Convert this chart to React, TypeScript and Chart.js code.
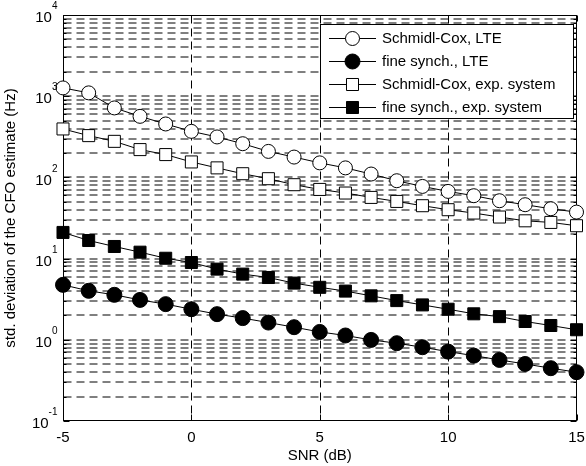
import React, { useEffect, useRef } from 'react';
import { Chart, registerables } from 'chart.js';

Chart.register(...registerables);

const snrDb = [-5, -4, -3, -2, -1, 0, 1, 2, 3, 4, 5, 6, 7, 8, 9, 10, 11, 12, 13, 14, 15];
const schmidlCoxLte = [1265, 1099, 717, 565, 455, 369, 315, 260, 209, 178, 151, 131, 110, 91, 77.4, 67.2, 59.5, 51.6, 46.1, 41.1, 37.4];
const fineSynchLte = [4.75, 4.01, 3.58, 3.1, 2.75, 2.38, 2.07, 1.85, 1.63, 1.43, 1.25, 1.13, 0.997, 0.908, 0.81, 0.715, 0.638, 0.565, 0.504, 0.447, 0.399];
const schmidlCoxExp = [395, 327, 278, 220, 191, 155, 131, 111, 96.4, 81.3, 71.1, 64.2, 56.7, 50.6, 44.8, 40, 36.4, 32.5, 29.2, 27.9, 25.4];
const fineSynchExp = [21.0, 16.7, 14.1, 12.0, 10.1, 8.95, 7.42, 6.44, 5.85, 4.99, 4.43, 3.98, 3.48, 3.04, 2.69, 2.38, 2.09, 1.93, 1.68, 1.5, 1.33];

const seriesLabels = [
  'Schmidl-Cox, LTE',
  'fine synch., LTE',
  'Schmidl-Cox, exp. system',
  'fine synch., exp. system',
];
const xTickValues = [-5, 0, 5, 10, 15];
const yDecadeExponents = [-1, 0, 1, 2, 3, 4];
const xTitle = 'SNR (dB)';
const yTitle = 'std. deviation of the CFO estimate (Hz)';

const FONT = '"Liberation Sans", Arial, Helvetica, sans-serif';

type Marker = { style: 'circle' | 'rect'; fill: string; radius: number };
const markers: Marker[] = [
  { style: 'circle', fill: '#ffffff', radius: 7 },
  { style: 'circle', fill: '#000000', radius: 7.5 },
  { style: 'rect', fill: '#ffffff', radius: 8.5 },
  { style: 'rect', fill: '#000000', radius: 8.5 },
];

function yTickValues(): number[] {
  const out: number[] = [];
  for (let e = yDecadeExponents[0]; e < yDecadeExponents[yDecadeExponents.length - 1]; e++) {
    for (let m = 1; m <= 9; m++) out.push(m * Math.pow(10, e));
  }
  out.push(Math.pow(10, yDecadeExponents[yDecadeExponents.length - 1]));
  return out;
}

function drawMarker(ctx: CanvasRenderingContext2D, m: Marker, x: number, y: number) {
  ctx.beginPath();
  if (m.style === 'circle') {
    ctx.arc(x, y, m.radius, 0, Math.PI * 2);
  } else {
    const s = m.radius * Math.SQRT1_2;
    ctx.rect(x - s, y - s, 2 * s, 2 * s);
  }
  ctx.fillStyle = m.fill;
  ctx.fill();
  ctx.lineWidth = 1;
  ctx.strokeStyle = '#000';
  ctx.stroke();
}

const framePlugin = {
  id: 'matlabFrame',
  beforeDatasetsDraw(chart: any) {
    const { ctx, chartArea: a, scales } = chart;
    const xs = scales.x;
    const ys = scales.y;
    const L = Math.round(a.left) + 0.5;
    const R = Math.round(a.right) - 0.5;
    const T = Math.round(a.top) + 0.5;
    const B = Math.round(a.bottom) - 0.5;
    ctx.save();
    // horizontal grid (soft grey dashes)
    ctx.lineWidth = 1;
    ctx.strokeStyle = '#000';
    ctx.setLineDash([8, 5]);
    for (const v of yTickValues()) {
      const py = Math.round(ys.getPixelForValue(v));
      if (py <= T + 1 || py >= B - 1) continue;
      ctx.beginPath();
      ctx.moveTo(L, py);
      ctx.lineTo(R, py);
      ctx.stroke();
    }
    // vertical grid
    ctx.lineWidth = 1;
    ctx.strokeStyle = '#000';
    for (const v of xTickValues) {
      const px = Math.round(xs.getPixelForValue(v)) + 0.5;
      if (px <= L + 1 || px >= R - 1) continue;
      ctx.beginPath();
      ctx.moveTo(px, T);
      ctx.lineTo(px, B);
      ctx.stroke();
    }
    ctx.setLineDash([]);
    // ticks on y
    for (const v of yTickValues()) {
      const py = Math.round(ys.getPixelForValue(v)) + 0.5;
      const major = Math.abs(Math.log10(v) - Math.round(Math.log10(v))) < 1e-9;
      const len = major ? 6 : 3;
      ctx.beginPath();
      ctx.moveTo(L, py);
      ctx.lineTo(L + len, py);
      ctx.moveTo(R, py);
      ctx.lineTo(R - len, py);
      ctx.stroke();
    }
    for (const v of xTickValues) {
      const px = Math.round(xs.getPixelForValue(v)) + 0.5;
      ctx.beginPath();
      ctx.moveTo(px, B);
      ctx.lineTo(px, B - 6);
      ctx.moveTo(px, T);
      ctx.lineTo(px, T + 6);
      ctx.stroke();
    }
    ctx.strokeRect(L, T, R - L, B - T);
    ctx.restore();
  },
  afterDraw(chart: any) {
    const { ctx, chartArea: a, scales } = chart;
    const ys = scales.y;
    ctx.save();
    // y tick labels 10^e
    const rightEdge = a.left - 5.5;
    for (const e of yDecadeExponents) {
      const py = ys.getPixelForValue(Math.pow(10, e));
      const expText = String(e);
      ctx.font = `10px ${FONT}`;
      const wExp = ctx.measureText(expText).width;
      ctx.font = `15px ${FONT}`;
      const wBase = ctx.measureText('10').width;
      ctx.fillStyle = '#000';
      ctx.textBaseline = 'middle';
      ctx.textAlign = 'left';
      ctx.fillText('10', rightEdge - wExp - wBase, py + 3);
      ctx.font = `10px ${FONT}`;
      ctx.fillText(expText, rightEdge - wExp, py - 8.5);
    }
    // legend
    const bx = 320.5, by = 24.5, bw = 253, bh = 94;
    ctx.fillStyle = '#fff';
    ctx.fillRect(bx, by, bw, bh);
    ctx.strokeStyle = '#000';
    ctx.lineWidth = 1;
    ctx.strokeRect(bx, by, bw, bh);
    seriesLabels.forEach((label, i) => {
      const cy = Math.round(by + 13 + i * 23) + 0.5;
      ctx.beginPath();
      ctx.moveTo(329, cy);
      ctx.lineTo(376, cy);
      ctx.strokeStyle = '#000';
      ctx.lineWidth = 1;
      ctx.stroke();
      drawMarker(ctx, markers[i], 352.5, cy);
      ctx.fillStyle = '#000';
      ctx.font = `15px ${FONT}`;
      ctx.textAlign = 'left';
      ctx.textBaseline = 'middle';
      ctx.fillText(label, 382, cy);
    });
    ctx.restore();
  },
};

export default function App() {
  const canvasRef = useRef<HTMLCanvasElement | null>(null);

  useEffect(() => {
    const canvas = canvasRef.current;
    if (!canvas) return;
    const seriesValues = [schmidlCoxLte, fineSynchLte, schmidlCoxExp, fineSynchExp];
    const chart = new Chart(canvas, {
      type: 'line',
      data: {
        datasets: seriesValues.map((vals, i) => ({
          label: seriesLabels[i],
          data: snrDb.map((x, j) => ({ x, y: vals[j] })),
          borderColor: '#000',
          borderWidth: 1,
          backgroundColor: markers[i].fill,
          pointStyle: markers[i].style,
          pointRadius: markers[i].radius,
          pointBackgroundColor: markers[i].fill,
          pointBorderColor: '#000',
          pointBorderWidth: 1,
          tension: 0,
          clip: false as any,
        })),
      },
      options: {
        responsive: false,
        animation: false,
        devicePixelRatio: 1,
        layout: { padding: { left: 0, top: 15, right: 8, bottom: 0 } },
        plugins: {
          legend: { display: false },
          tooltip: { enabled: false },
        },
        scales: {
          x: {
            type: 'linear',
            min: -5,
            max: 15,
            grid: { display: false, drawTicks: false },
            border: { display: false },
            ticks: {
              color: '#000',
              font: { family: FONT, size: 15 },
              padding: 7.5,
              maxRotation: 0,
              autoSkip: false,
            },
            afterBuildTicks: (scale: any) => {
              scale.ticks = xTickValues.map((v) => ({ value: v }));
            },
            afterFit: (scale: any) => {
              scale.height = 45;
              scale.paddingLeft = 0;
              scale.paddingRight = 0;
            },
            title: {
              display: true,
              text: xTitle,
              color: '#000',
              font: { family: FONT, size: 15, lineHeight: 1 },
              padding: { top: 0, bottom: 2.5 },
            },
          },
          y: {
            type: 'logarithmic',
            min: 0.1,
            max: 10000,
            grid: { display: false, drawTicks: false },
            border: { display: false },
            ticks: { display: false },
            afterBuildTicks: (scale: any) => {
              scale.ticks = yTickValues().map((v) => ({ value: v }));
            },
            afterFit: (scale: any) => {
              scale.width = 63;
              scale.paddingTop = 0;
              scale.paddingBottom = 0;
            },
            title: {
              display: true,
              text: yTitle,
              color: '#000',
              font: { family: FONT, size: 15, lineHeight: 1 },
              padding: { top: 3.5, bottom: 0 },
            },
          },
        },
      },
      plugins: [framePlugin],
    });
    return () => chart.destroy();
  }, []);

  return (
    <div style={{ position: 'absolute', left: 0, top: 0, width: 586, height: 466, background: '#fff' }}>
      <canvas ref={canvasRef} width={586} height={466} style={{ display: 'block', width: 586, height: 466 }} />
    </div>
  );
}
